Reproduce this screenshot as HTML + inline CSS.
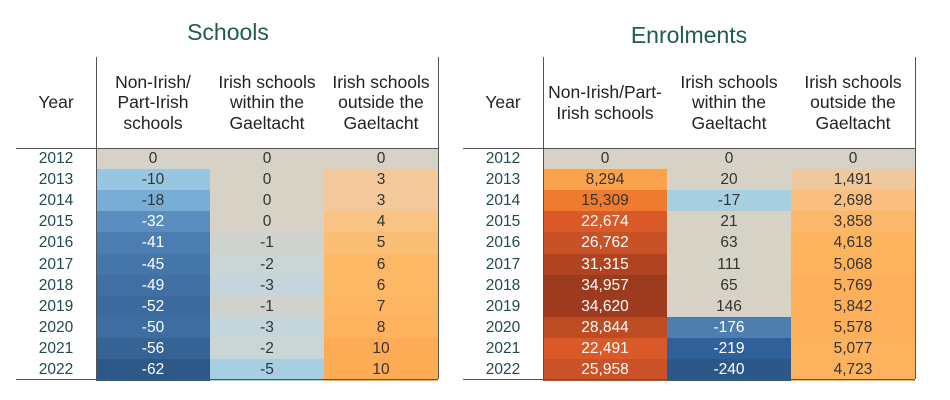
<!DOCTYPE html>
<html><head><meta charset="utf-8"><style>
body{margin:0;width:950px;height:400px;background:#fff;position:relative;overflow:hidden;font-family:"Liberation Sans",Arial,sans-serif}
.a{position:absolute}
.t{color:#1f5c4f;font-size:23px;text-align:center}
.h{font-size:17.5px;line-height:20.5px;text-align:center;color:#222;display:flex;align-items:center;justify-content:center;white-space:nowrap}
.ln{background:#555}
.c{font-size:15.5px;text-align:center;line-height:21px;height:21px}
.y{font-size:15.5px;text-align:center;line-height:21px;color:#1f4a4f}
</style></head><body>
<div class="a t" style="left:96px;top:19px;width:264px">Schools</div>
<div class="a t" style="left:543px;top:22px;width:292px">Enrolments</div>
<script>
const years=[2012,2013,2014,2015,2016,2017,2018,2019,2020,2021,2022];
const schNonIrish=[0,-10,-18,-32,-41,-45,-49,-52,-50,-56,-62];
const schWithin=[0,0,0,0,-1,-2,-3,-1,-3,-2,-5];
const schOutside=[0,3,3,4,5,6,6,7,8,10,10];
const enrNonIrish=[0,8294,15309,22674,26762,31315,34957,34620,28844,22491,25958];
const enrWithin=[0,20,-17,21,63,111,65,146,-176,-219,-240];
const enrOutside=[0,1491,2698,3858,4618,5068,5769,5842,5578,5077,4723];
const schHeaders=["Non-Irish/<br>Part-Irish<br>schools","Irish schools<br>within the<br>Gaeltacht","Irish schools<br>outside the<br>Gaeltacht"];
const enrHeaders=["Non-Irish/Part-<br>Irish schools","Irish schools<br>within the<br>Gaeltacht","Irish schools<br>outside the<br>Gaeltacht"];
function hex(c){return [1,3,5].map(i=>parseInt(c.substr(i,2),16));}
function interp(stops,v){
  if(v<=stops[0][0])return hex(stops[0][1]);
  for(let i=1;i<stops.length;i++){if(v<=stops[i][0]){const a=stops[i-1],b=stops[i];const t=(v-a[0])/(b[0]-a[0]);const ca=hex(a[1]),cb=hex(b[1]);return ca.map((x,k)=>Math.round(x+(cb[k]-x)*t));}}
  return hex(stops[stops.length-1][1]);
}
const schNeg=[[0,'#d6d2c6'],[3,'#c4d6dc'],[5,'#a7cfe2'],[10,'#98c6e1'],[18,'#78aed5'],[32,'#5a8dbe'],[41,'#4b7db0'],[52,'#3b6a9e'],[62,'#2d5888']];
const schPos=[[0,'#d6d2c6'],[3,'#f3c99b'],[4,'#f9c384'],[6,'#fdb866'],[10,'#fdac55']];
const enrNeg=[[0,'#d6d2c6'],[17,'#a6cfe2'],[100,'#7aa9cf'],[176,'#4e7ead'],[219,'#30609a'],[240,'#2c5887']];
const enrPos=[[0,'#d6d2c6'],[150,'#d8d3c6'],[1500,'#f0c89d'],[2700,'#fabe7e'],[4500,'#fdb45f'],[6000,'#fdaf58'],[8300,'#fba24c'],[15300,'#ef7b2e'],[22600,'#d95a28'],[27000,'#c75025'],[35000,'#9c3a1e']];
function color(v,neg,pos){return v<0?interp(neg,-v):interp(pos,v);}
function mk(cls,name,st,html){const d=document.createElement('div');d.className='a '+cls;


Object.assign(d.style,st);if(html!==undefined)d.innerHTML=html;document.body.appendChild(d);return d;}
function table(x0,yearW,colW,series,headers,neg,pos,prefix,fmt){
  const top=148,rh=21.1,cx=x0+yearW;
  mk('h',prefix+'-year-header',{left:x0+'px',top:'57px',width:yearW+'px',height:'91px'},'Year');
  headers.forEach((h,i)=>mk('h',prefix+'-col-header-'+(i+1),{left:(cx+i*colW)+'px',top:'57px',width:colW+'px',height:'91px'},h));
  years.forEach((y,r)=>{
    mk('y',prefix+'-year-'+y,{left:x0+'px',top:(top+r*rh)+'px',width:yearW+'px'},y);
    series.forEach((s,i)=>{const v=s[r];const c=color(v,neg,pos);
      const lum=(0.299*c[0]+0.587*c[1]+0.114*c[2]);
      mk('c',prefix+'-cell-'+(i+1)+'-'+y,{left:(cx+i*colW)+'px',top:(top+r*rh)+'px',width:colW+'px',height:(rh+0.5)+'px',background:`rgb(${c})`,color:lum<135?'#fff':'#333'},fmt(v));});
  });
  const right=cx+colW*series.length;
  mk('ln',prefix+'-header-rule',{left:x0+'px',top:top+'px',width:(right-x0)+'px',height:'1px'});
  mk('ln',prefix+'-bottom-rule',{left:x0+'px',top:'379px',width:(right-x0)+'px',height:'1px'});
  mk('ln',prefix+'-left-rule',{left:cx+'px',top:'57px',width:'1px',height:'322px'});
  mk('ln',prefix+'-right-rule',{left:right+'px',top:'57px',width:'1px',height:'322px'});
}
table(16,80,114,[schNonIrish,schWithin,schOutside],schHeaders,schNeg,schPos,'schools',v=>String(v));
table(463,80,124,[enrNonIrish,enrWithin,enrOutside],enrHeaders,enrNeg,enrPos,'enrolments',v=>v.toLocaleString('en-US'));
</script>
</body></html>
